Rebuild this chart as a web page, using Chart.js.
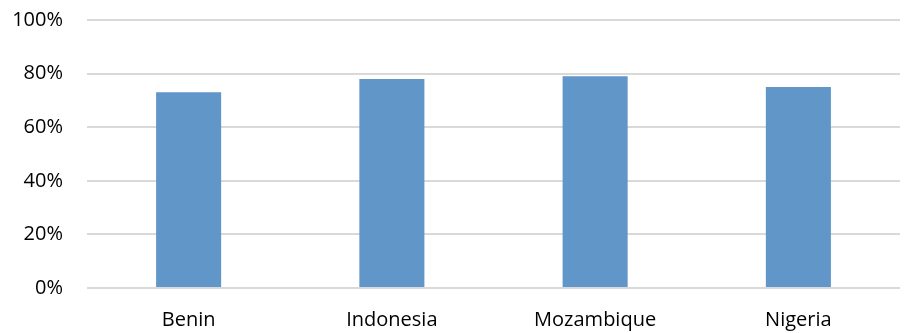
<!DOCTYPE html>
<html>
<head>
<meta charset="utf-8">
<script src="https://cdn.jsdelivr.net/npm/chart.js@4"></script>
<style>
    html, body { margin: 0; padding: 0; background: #fff; }
    #wrap { width: 904px; height: 333px; }
</style>
</head>
<body>
<div id="wrap"><canvas id="barChart"></canvas></div>
<script>
    // values
    var countries = ["Benin", "Indonesia", "Mozambique", "Nigeria"];
    var shares = [73, 78, 79, 75];
    var yTicks = [0, 20, 40, 60, 80, 100];

    var ctx = document.getElementById("barChart").getContext("2d");
    var barChart = new Chart(ctx, {
        type: "bar",
        data: {
            labels: countries,
            datasets: [
                {
                    data: shares,
                    backgroundColor: "#6096c8",
                    borderWidth: 0,
                    barPercentage: 0.64,
                    categoryPercentage: 0.5,
                },
            ],
        },
        options: {
            responsive: true,
            maintainAspectRatio: false,
            animation: false,
            layout: { padding: { top: 0, right: 4, left: 10, bottom: 1 } },
            plugins: {
                legend: { display: false },
                tooltip: { enabled: false },
            },
            scales: {
                x: {
                    grid: { display: false, drawTicks: false },
                    border: { display: false },
                    afterFit: function (axis) {
                        axis.height = 44;
                    },
                    ticks: {
                        color: "#000",
                        padding: 20,
                        font: { family: "Open Sans", size: 20 },
                    },
                },
                y: {
                    min: 0,
                    max: 100,
                    afterBuildTicks: function (axis) {
                        axis.ticks = yTicks.map(function (v) { return { value: v }; });
                    },
                    afterFit: function (axis) {
                        axis.width = 77;
                        axis.paddingTop = 20;
                    },
                    grid: { color: "#d9d9d9", lineWidth: 2, drawTicks: false },
                    border: { display: false },
                    ticks: {
                        color: "#000",
                        padding: 24,
                        font: { family: "Open Sans", size: 20 },
                        callback: function (v) { return v + "%"; },
                    },
                },
            },
        },
    });
</script>
</body>
</html>
